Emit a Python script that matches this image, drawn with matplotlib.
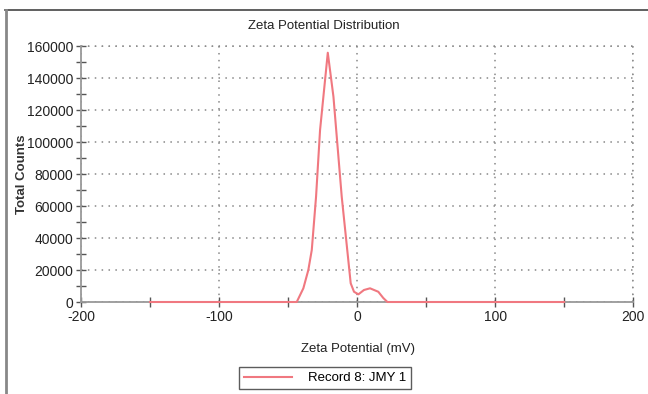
import matplotlib
matplotlib.use("Agg")
import matplotlib.pyplot as plt
from matplotlib.lines import Line2D
from matplotlib.ticker import MultipleLocator
from matplotlib import font_manager

# zeta potential (mV) vs total counts
zeta = [-150, -100, -50, -43.7, -38.9, -35.3, -32.8, -29.7, -26.8, -21.2, -17.1, -11.1, -4.6, -2.2,
        1, 5, 9.4, 15.4, 19, 22, 50, 100, 150]
counts = [0, 0, 0, 0, 8560, 20000, 32500, 65800, 107500, 155800, 128300, 65800, 11700, 6400,
          4800, 7500, 8560, 6400, 2500, 0, 0, 0, 0]

installed = {f.name for f in font_manager.fontManager.ttflist}
if 'Liberation Sans Narrow' in installed:
    label_font = 'Liberation Sans Narrow'
    label_size = 11
else:
    label_font = 'Liberation Sans'
    label_size = 9.5

plt.rcParams['font.family'] = ['Liberation Sans', 'DejaVu Sans']
plt.rcParams['axes.unicode_minus'] = False

fig = plt.figure(figsize=(6.48, 3.94), dpi=100)
ax = fig.add_axes([0.125, 0.2335, 0.852, 0.6497])

line_col = '#f07880'
ax.plot(zeta, counts, color=line_col, lw=1.5, label='Record 8: JMY 1', zorder=5, clip_on=False)

ax.set_xlim(-200, 200)
ax.set_ylim(0, 160000)
ax.xaxis.set_major_locator(MultipleLocator(100))
ax.xaxis.set_minor_locator(MultipleLocator(50))
ax.yaxis.set_major_locator(MultipleLocator(20000))
ax.yaxis.set_minor_locator(MultipleLocator(10000))

dots = (0, (1, 3.5))
ax.grid(True, which='major', linestyle=dots, color='#888888', lw=1.1)
for s in ['top', 'right']:
    ax.spines[s].set_visible(False)
for s in ['left', 'bottom']:
    ax.spines[s].set_color('#999999')
    ax.spines[s].set_linewidth(1.3)
# dotted top and right edges like the reference
ax.axhline(160000, color='#888888', linestyle=dots, lw=1.1, clip_on=False)
ax.axvline(200, color='#888888', linestyle=dots, lw=1.1, clip_on=False)

ax.tick_params(which='both', direction='inout', color='#555555', width=1, length=7,
               labelsize=10, labelcolor='#222222', pad=2)

fig.text(0.5, 1 - 26 / 394, 'Zeta Potential Distribution', ha='center', va='center',
         family=label_font, fontsize=label_size, color='#222222')
fig.text(358 / 648, 1 - 349 / 394, 'Zeta Potential (mV)', ha='center', va='center',
         family=label_font, fontsize=label_size, color='#222222')
fig.text(22 / 648, 1 - 174 / 394, 'Total Counts', ha='center', va='center', rotation=90,
         family=label_font, fontsize=label_size, fontweight='bold', color='#333333')

leg = fig.legend(loc='center', bbox_to_anchor=(325 / 648, 1 - 378 / 394), frameon=True, fancybox=False,
                 prop={'family': label_font, 'size': label_size}, handlelength=3.6,
                 borderpad=0.4, handletextpad=1.2)
leg.get_frame().set_edgecolor('#333333')
leg.get_frame().set_linewidth(1.0)

# outer frame lines (top and left)
fig.add_artist(Line2D([5 / 648, 1], [1 - 10 / 394, 1 - 10 / 394], color='#444444', lw=1.2))
fig.add_artist(Line2D([6 / 648, 6 / 648], [0, 1 - 10 / 394], color='#888888', lw=2))

fig.savefig('out.png', dpi=100)
